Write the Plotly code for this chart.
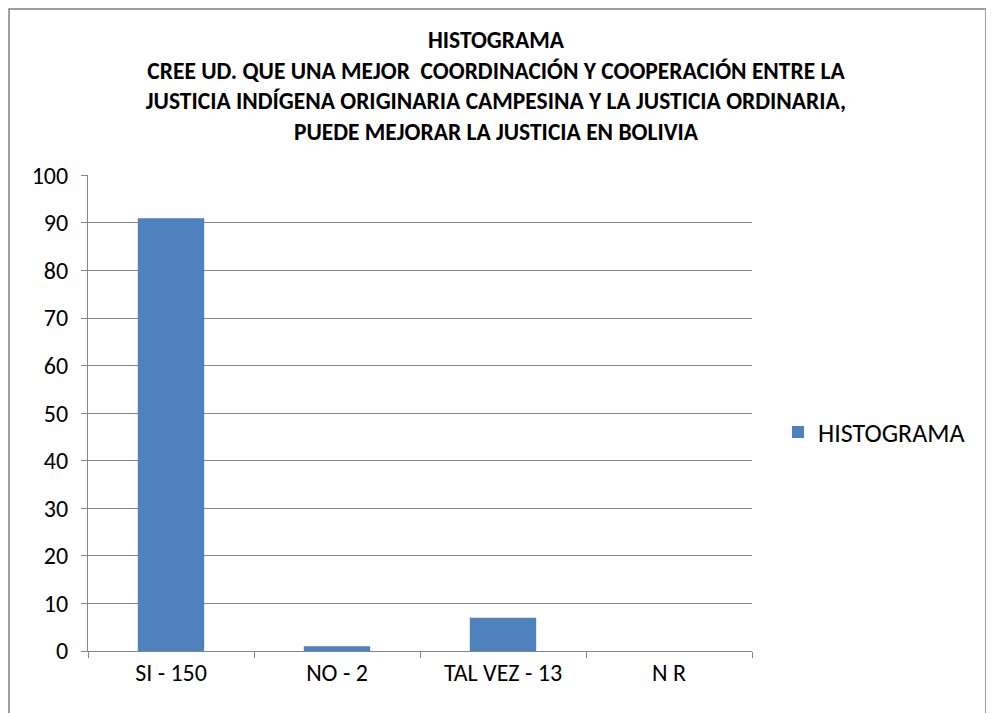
import plotly.graph_objects as go

categories = ["SI - 150", "NO - 2", "TAL VEZ - 13", "N R"]
values = [91, 1, 7, 0]
series_name = "HISTOGRAMA"
title_lines = [
    "HISTOGRAMA",
    "CREE UD. QUE UNA MEJOR  COORDINACIÓN Y COOPERACIÓN ENTRE LA",
    "JUSTICIA INDÍGENA ORIGINARIA CAMPESINA Y LA JUSTICIA ORDINARIA,",
    "PUEDE MEJORAR LA JUSTICIA EN BOLIVIA",
]
y_ticks = list(range(0, 101, 10))

# the page body has an 8px margin, so the figure starts at (8, 8) of the window
W, H = 986, 705
L, R, T, B = 80, 242, 167, 62
pw, ph = W - L - R, H - T - B

font_main = "Carlito, Calibri, 'Open Sans', sans-serif"
y_range = [0, 100.08]  # a hair above 100 so the top gridline is kept

fig = go.Figure()
fig.add_trace(go.Bar(x=categories, y=values, name=series_name,
                     marker=dict(color="#4F81BD", line=dict(width=0)),
                     showlegend=True))
# invisible companion so the overlay axis (short visible ticks + line) is drawn
fig.add_trace(go.Scatter(x=categories, y=values, yaxis="y2", mode="none",
                         showlegend=False, hoverinfo="skip"))

fig.update_layout(
    width=W, height=H,
    margin=dict(l=L, r=R, t=T, b=B),
    paper_bgcolor="white", plot_bgcolor="white",
    font=dict(family=font_main, size=24, color="black"),
    bargap=0.6,
    title=dict(text="<br>".join("<b>%s</b>" % t for t in title_lines),
               x=(W / 2 - 5) / W, xanchor="center", y=1 - 40 / H, yanchor="top",
               font=dict(size=23.5, family=font_main, color="black")),
    xaxis=dict(type="category", showgrid=False, showline=True, linecolor="#868686",
               linewidth=1, ticks="outside", tickson="boundaries", ticklen=6,
               tickcolor="#868686", tickfont=dict(size=24)),
    # labelled axis: long invisible ticks push the labels away from the axis line
    yaxis=dict(range=y_range, tickvals=y_ticks, showgrid=True, gridcolor="#868686",
               gridwidth=1, showline=False,
               ticks="outside", ticklen=14, tickcolor="rgba(0,0,0,0)",
               tickfont=dict(size=24), zeroline=False),
    # overlay axis: the visible short ticks and the axis line
    yaxis2=dict(range=y_range, tickvals=y_ticks, overlaying="y", anchor="x", side="left",
                showgrid=False, showline=True, linecolor="#868686", linewidth=1,
                ticks="outside", ticklen=6, tickcolor="#868686",
                showticklabels=False, zeroline=False),
    legend=dict(x=(770 - L) / pw, y=(H - B - 424) / ph, xanchor="left", yanchor="middle",
                font=dict(size=26), itemwidth=30),
    shapes=[dict(type="rect", xref="paper", yref="paper",
                 x0=(1 - L) / pw, x1=(978 - L) / pw,
                 y0=(H - B - 720) / ph, y1=(H - B - 1) / ph,
                 line=dict(color="#808080", width=1.5), fillcolor="rgba(0,0,0,0)",
                 layer="below")],
)

fig.write_html("out.html")
